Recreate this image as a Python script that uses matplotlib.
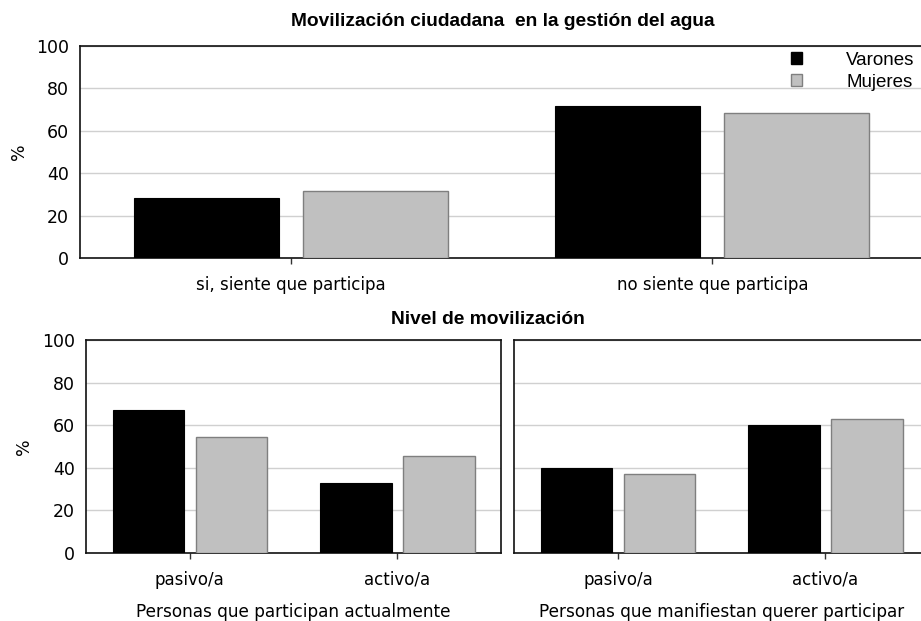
import matplotlib
matplotlib.use("Agg")
import matplotlib.pyplot as plt
import numpy as np
from matplotlib.patches import Patch

# ---- data ----
top_categories = ["si, siente que participa", "no siente que participa"]
top_varones = [28.4, 71.6]
top_mujeres = [31.6, 68.4]

level_categories = ["pasivo/a", "activo/a"]
actual_varones = [67.0, 33.0]
actual_mujeres = [54.5, 45.5]
quiere_varones = [40.0, 60.0]
quiere_mujeres = [37.0, 63.0]

series_names = ["Varones", "Mujeres"]
yticks = [0, 20, 40, 60, 80, 100]

title_top = "Movilización ciudadana  en la gestión del agua"
title_bottom = "Nivel de movilización"
xlabel_left = "Personas que participan actualmente"
xlabel_right = "Personas que manifiestan querer participar"

BLACK = "#000000"
GRAY = "#c0c0c0"
GRAY_EDGE = "#7f7f7f"
TICKFONT = "DejaVu Sans"
TITLEFONT = "Liberation Sans"

fig = plt.figure(figsize=(9.21, 6.21), dpi=100)

def style(ax, cats, v, m, show_right=True):
    x = np.arange(len(cats))
    w = 0.344
    ax.bar(x - 0.2, v, w, color=BLACK, edgecolor=BLACK, linewidth=0.8, zorder=3)
    ax.bar(x + 0.2, m, w, color=GRAY, edgecolor=GRAY_EDGE, linewidth=1.0, zorder=3)
    ax.set_xlim(-0.5, len(cats) - 0.5)
    ax.set_ylim(0, 100)
    ax.set_yticks(yticks)
    ax.set_yticklabels([str(t) for t in yticks], fontsize=12.5, family=TICKFONT)
    ax.set_xticks(x)
    ax.set_xticklabels(cats, fontsize=12, family=TICKFONT)
    ax.tick_params(axis="y", length=0, pad=8)
    ax.tick_params(axis="x", length=4, width=1, color="#333333", pad=9)
    ax.grid(axis="y", color="#d0d0d0", linewidth=1.0, zorder=0)
    for s in ["top", "left", "right", "bottom"]:
        ax.spines[s].set_color("#111111")
        ax.spines[s].set_linewidth(1.2)
    ax.spines["right"].set_visible(show_right)

ax1 = fig.add_axes([0.0869, 0.5845, 0.9153, 0.3419])
style(ax1, top_categories, top_varones, top_mujeres, show_right=False)
ax1.set_ylabel("%", fontsize=12.5, family=TICKFONT)
ax1.yaxis.set_label_coords(-0.062, 0.5)
handles = [Patch(facecolor=BLACK, edgecolor=BLACK), Patch(facecolor=GRAY, edgecolor=GRAY_EDGE)]
ax1.legend(handles, series_names, loc="upper right", bbox_to_anchor=(1.001, 1.015),
           frameon=False, prop={"family": TITLEFONT, "size": 13.5},
           handlelength=0.6, handleheight=0.6, handletextpad=2.35,
           labelspacing=0.25, borderaxespad=0.2, borderpad=0.3)
fig.text(0.546, 0.965, title_top, ha="center", va="center", fontsize=13.8,
         fontweight="bold", family=TITLEFONT)

ax2 = fig.add_axes([0.0934, 0.1100, 0.4509, 0.342])
style(ax2, level_categories, actual_varones, actual_mujeres)
ax2.set_ylabel("%", fontsize=12.5, family=TICKFONT)
ax2.yaxis.set_label_coords(-0.128, 0.5)
ax2.set_xlabel(xlabel_left, fontsize=12.2, family=TICKFONT, labelpad=10)

ax3 = fig.add_axes([0.5584, 0.1100, 0.4504, 0.342])
style(ax3, level_categories, quiere_varones, quiere_mujeres, show_right=False)
ax3.set_yticklabels([])
ax3.set_xlabel(xlabel_right, fontsize=12.2, family=TICKFONT, labelpad=10)

fig.text(0.530, 0.485, title_bottom, ha="center", va="center", fontsize=13.8,
         fontweight="bold", family=TITLEFONT)

fig.savefig("out.png", dpi=100)
